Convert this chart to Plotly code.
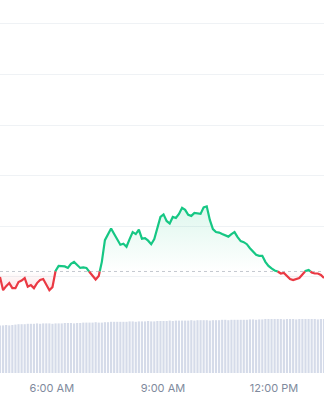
import pandas as pd
import plotly.graph_objects as go

# ---- data ----
start_time = "2024-05-20 04:36"
step = "5min"
open_price = 2441.0

prices = [
    2439.9, 2437.3, 2438.1, 2438.7, 2437.7, 2437.7, 2438.9, 2439.2, 2439.7, 2438.0,
    2438.3, 2437.7, 2438.7, 2439.3, 2439.5, 2438.5, 2437.3, 2437.9, 2441.1, 2442.1,
    2442.1, 2442.0, 2441.7, 2442.5, 2442.9, 2442.3, 2441.7, 2441.8, 2441.7, 2440.9,
    2440.3, 2439.4, 2440.1, 2442.9, 2447.2, 2448.4, 2449.5, 2448.4, 2447.4, 2446.3,
    2446.5, 2445.9, 2447.4, 2448.8, 2448.4, 2449.3, 2447.5, 2447.6, 2447.1, 2446.4,
    2447.4, 2449.4, 2451.8, 2452.3, 2451.0, 2450.5, 2451.8, 2451.6, 2452.4, 2453.6,
    2453.2, 2452.2, 2452.0, 2452.6, 2452.5, 2452.4, 2453.7, 2453.9, 2451.2, 2449.4,
    2448.8, 2448.7, 2448.4, 2448.2, 2447.9, 2448.4, 2448.8, 2447.8, 2447.0, 2446.8,
    2446.4, 2445.6, 2444.9, 2444.3, 2444.1, 2444.1, 2442.9, 2442.1, 2441.6, 2441.2,
    2441.0, 2440.6, 2440.7, 2440.1, 2439.5, 2439.3, 2439.5, 2439.7, 2440.4, 2441.1,
    2441.3, 2440.8, 2440.6, 2440.6, 2440.3, 2439.7,
]

volumes = [
    11.9, 11.9, 12.0, 11.9, 12.0, 12.1, 12.2, 12.2, 12.2, 12.3,
    12.3, 12.3, 12.4, 12.3, 12.4, 12.4, 12.4, 12.3, 12.4, 12.4,
    12.4, 12.5, 12.5, 12.5, 12.4, 12.5, 12.5, 12.6, 12.6, 12.6,
    12.6, 12.7, 12.6, 12.6, 12.7, 12.7, 12.8, 12.8, 12.8, 12.8,
    12.8, 12.8, 12.9, 12.9, 12.8, 12.9, 12.9, 12.9, 13.0, 12.9,
    12.9, 13.0, 13.0, 13.0, 13.0, 13.1, 13.0, 13.1, 13.1, 13.1,
    13.1, 13.1, 13.2, 13.1, 13.2, 13.2, 13.2, 13.2, 13.1, 13.2,
    13.2, 13.2, 13.3, 13.3, 13.2, 13.3, 13.3, 13.3, 13.3, 13.3,
    13.3, 13.4, 13.4, 13.3, 13.4, 13.4, 13.5, 13.5, 13.5, 13.5,
    13.5, 13.5, 13.4, 13.5, 13.5, 13.5, 13.4, 13.5, 13.5, 13.5,
    13.5, 13.5, 13.5, 13.4, 13.5, 13.5,
]

tick_values = ["2024-05-20 06:00", "2024-05-20 09:00", "2024-05-20 12:00"]
tick_labels = ["6:00 AM", "9:00 AM", "12:00 PM"]

GREEN = "#16c784"
RED = "#ea3943"

times = pd.date_range(start_time, periods=len(prices), freq=step)

# insert crossing points with the open-price baseline
xs, ys = [], []
for i in range(len(prices)):
    xs.append(times[i])
    ys.append(prices[i])
    if i < len(prices) - 1:
        a, b = prices[i] - open_price, prices[i + 1] - open_price
        if a * b < 0:
            frac = (open_price - prices[i]) / (prices[i + 1] - prices[i])
            xs.append(times[i] + (times[i + 1] - times[i]) * frac)
            ys.append(open_price)

above = [max(y, open_price) for y in ys]
below = [min(y, open_price) for y in ys]
line_up = [y if y >= open_price else None for y in ys]
line_dn = [y if y <= open_price else None for y in ys]
base = [open_price] * len(xs)

fig = go.Figure()

# volume bars
fig.add_trace(go.Bar(x=times, y=volumes, yaxis="y2", marker=dict(color="#d5dbe9", line=dict(width=0)),
                     hoverinfo="skip"))

# fills
fig.add_trace(go.Scatter(x=xs, y=base, mode="lines", line=dict(width=0), hoverinfo="skip"))
fig.add_trace(go.Scatter(x=xs, y=above, mode="lines", line=dict(width=0), fill="tonexty",
                         fillgradient=dict(type="vertical", start=open_price, stop=max(prices),
                                           colorscale=[[0, "rgba(22,199,132,0.0)"], [1, "rgba(22,199,132,0.14)"]]),
                         hoverinfo="skip"))
fig.add_trace(go.Scatter(x=xs, y=base, mode="lines", line=dict(width=0), hoverinfo="skip"))
fig.add_trace(go.Scatter(x=xs, y=below, mode="lines", line=dict(width=0), fill="tonexty",
                         fillgradient=dict(type="vertical", start=min(prices), stop=open_price,
                                           colorscale=[[0, "rgba(234,57,67,0.14)"], [1, "rgba(234,57,67,0.0)"]]),
                         hoverinfo="skip"))

# price lines
fig.add_trace(go.Scatter(x=xs, y=line_up, mode="lines", line=dict(color=GREEN, width=2.2), connectgaps=False))
fig.add_trace(go.Scatter(x=xs, y=line_dn, mode="lines", line=dict(color=RED, width=2.2), connectgaps=False))

fig.add_shape(type="line", xref="paper", x0=0, x1=1, yref="y", y0=open_price, y1=open_price,
              line=dict(color="#c4c8cf", width=1, dash="dot"), layer="below")

fig.update_layout(
    width=324, height=400,
    margin=dict(l=0, r=0, t=0, b=27),
    paper_bgcolor="white", plot_bgcolor="white",
    showlegend=False, bargap=0.3,
    font=dict(family="Inter, sans-serif"),
    xaxis=dict(range=[times[0], times[-1]], anchor="y2", showgrid=False, zeroline=False, showline=False,
               tickvals=tick_values, ticktext=tick_labels, ticks="", ticklabelstandoff=7,
               tickfont=dict(size=11, color="#808a9d")),
    yaxis=dict(domain=[0.1957, 1], range=[2435.35, 2494.75], tick0=2440, dtick=10,
               showgrid=True, gridcolor="#eff2f5", gridwidth=1, zeroline=False,
               showticklabels=False, ticks=""),
    yaxis2=dict(domain=[0, 0.1957], range=[0, 18.25], showgrid=False, zeroline=False,
                showticklabels=False, ticks=""),
)

fig.write_html("out.html", config={"displayModeBar": False})
